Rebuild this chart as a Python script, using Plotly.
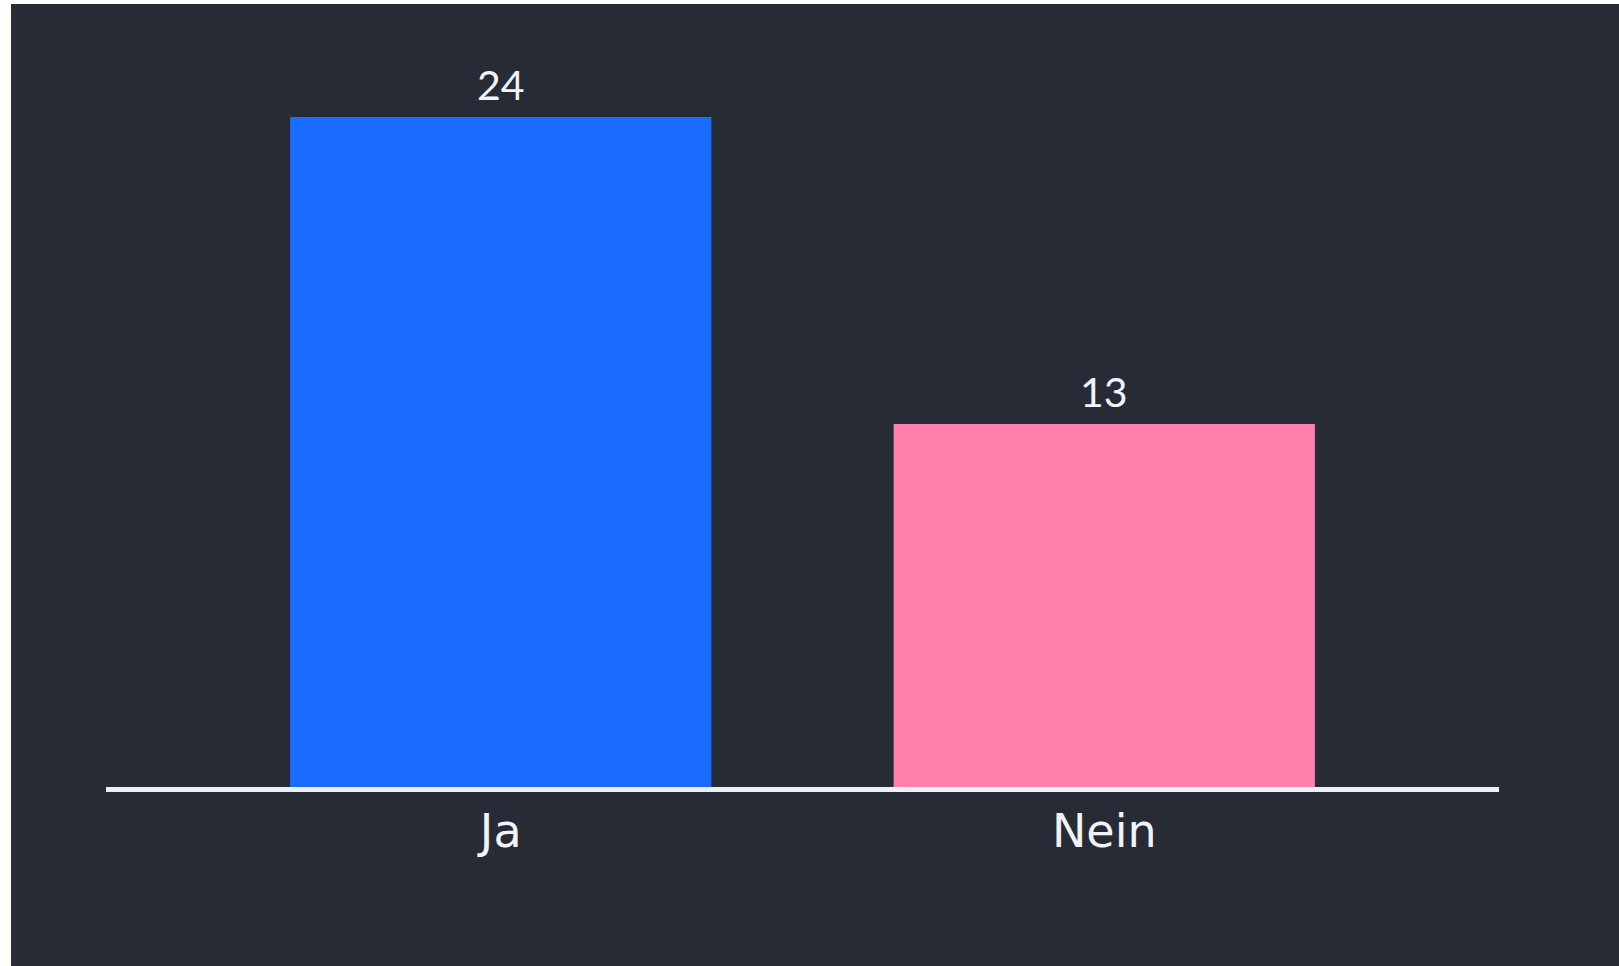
import plotly.graph_objects as go

categories = ["Ja", "Nein"]
values = [24, 13]
bar_colors = ["#1a6bff", "#ff80aa"]

BG = "#272b36"
W, H = 1619, 966
ml, mr, mt, mb = 106, 120, 89, 179
pw, ph = W - ml - mr, H - mt - mb

fig = go.Figure(
    go.Bar(
        x=categories,
        y=values,
        marker=dict(color=bar_colors, line=dict(width=0)),
        hoverinfo="skip",
    )
)

annotations = [
    dict(x=c, y=v, xref="x", yref="y", text=str(v), showarrow=False,
         yanchor="bottom", xanchor="center", yshift=6,
         font=dict(family="Lato", size=41, color="#f2f3f7"))
    for c, v in zip(categories, values)
]

# white screenshot border strips (left and top)
shapes = [
    dict(type="rect", xref="paper", yref="paper",
         x0=(0 - ml) / pw, x1=(11 - ml) / pw,
         y0=(H - mb - H) / ph, y1=(H - mb) / ph,
         fillcolor="white", line=dict(width=0), layer="above"),
    dict(type="rect", xref="paper", yref="paper",
         x0=(0 - ml) / pw, x1=(W - ml) / pw,
         y0=(H - mb - 4) / ph, y1=(H - mb) / ph,
         fillcolor="white", line=dict(width=0), layer="above"),
]

fig.update_layout(
    width=W, height=H,
    margin=dict(l=ml, r=mr, t=mt, b=mb, pad=0),
    paper_bgcolor=BG, plot_bgcolor=BG,
    bargap=0.302,
    showlegend=False,
    shapes=shapes,
    annotations=annotations,
    xaxis=dict(
        range=[-0.654, 1.654],
        showline=True, linewidth=5, linecolor="#eef0f8",
        showgrid=False, zeroline=False,
        ticks="",
        tickfont=dict(family="DejaVu Sans", size=46, color="#f2f3f7"),
        fixedrange=True,
    ),
    yaxis=dict(
        range=[0, 25], visible=False, showgrid=False, zeroline=False,
        fixedrange=True,
    ),
)

fig.write_html(
    "out.html",
    config={"displayModeBar": False},
    post_script="document.body.style.margin='0';document.body.style.overflow='hidden';",
)
